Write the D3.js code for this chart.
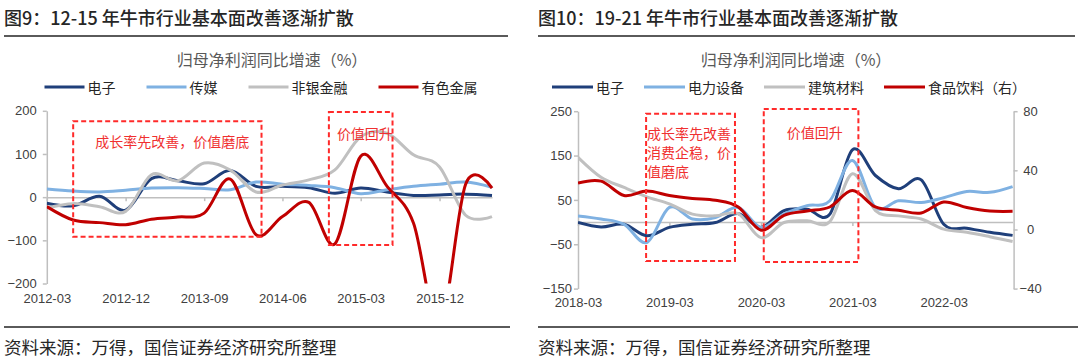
<!DOCTYPE html>
<html>
<head>
<meta charset="utf-8">
<script src="https://cdn.jsdelivr.net/npm/d3@7"></script>
<style>
  body { margin: 0; background: #fff; }
  svg { display: block; }
  .cn { font-family: "Noto Sans CJK SC", "Noto Sans", sans-serif; }
</style>
</head>
<body>
<svg id="chart" width="1080" height="359"></svg>
<script>
// ---- 图9 data (quarterly, %)
const leftDates = ["2012-03","2012-06","2012-09","2012-12","2013-03","2013-06","2013-09","2013-12","2014-03",
                   "2014-06","2014-09","2014-12","2015-03","2015-06","2015-09","2015-12","2016-03","2016-06"];
const leftElec  = [-14, -20, 2, -30, 43, 38, 31, 62, 25, 25, 22, 9, 21, 12, 4, 5, 7, 4];
const leftMedia = [19, 14, 12, 16, 21, 22, 20, 17, 35, 30, 27, 22, 8, 17, 25, 30, 35, 23];
const leftFin   = [-25, -15, -22, -33, 52, 38, 79, 63, 12, 28, 40, 63, 140, 148, 98, 70, -42, -45];
const leftMetal = [-22, -53, -59, -64, -51, -46, -37, 42, -87, -45, -12, -108, 95, 25, -60, -300, 30, 21];
const leftTicksY = [200, 100, 0, -100, -200];
const leftTicksX = ["2012-03","2012-12","2013-09","2014-06","2015-03","2015-12"];

// ---- 图10 data (quarterly, %)
const rightDates = ["2018-03","2018-06","2018-09","2018-12","2019-03","2019-06","2019-09","2019-12","2020-03","2020-06",
                    "2020-09","2020-12","2021-03","2021-06","2021-09","2021-12","2022-03","2022-06","2022-09","2022-12"];
const rightElec  = [-1, -11, -5, -31, -12, -5, -1, 19, -12, 26, 29, 18, 163, 105, 75, 95, -5, -14, -23, -30];
const rightPower = [14, 7, -5, -46, 33, 7, 10, 33, -12, 18, 37, 48, 139, 33, 48, 44, 55, 69, 67, 80];
const rightBuild = [146, 101, 78, 57, 41, 18, 14, 19, -35, -1, 3, 1, 109, 26, 14, 7, -16, -23, -33, -44];
const rightFood  = [31.4, 32.7, 23, 26, 23, 21, 19.7, 15.2, -0.5, 9.6, 12.5, 15.2, 26.4, 15.2, 13, 11.2, 18.6, 14.8, 12.5, 12.3];
const rightTicksY  = [250, 150, 50, -50, -150];
const rightTicksY2 = [80, 40, 0, -40];
const rightTicksX  = ["2018-03","2019-03","2020-03","2021-03","2022-03"];

const NAVY = "#1f3f7a", LBLUE = "#7fb1e2", GRAY = "#c0c0c0", RED = "#c00000";
const parse = d3.timeParse("%Y-%m");
const parseDay = d3.timeParse("%Y-%m-%d");
const fmt = d3.timeFormat("%Y-%m");
const svg = d3.select("#chart");

function drawPanel(p) {
  const g = svg.append("g");

  // header
  g.append("text").attr("class", "cn").attr("x", p.left).attr("y", 25)
    .attr("font-size", 18).attr("font-weight", 500).attr("fill", "#262626").text(p.title);
  g.append("line").attr("x1", p.left).attr("x2", p.ruleTop).attr("y1", 36).attr("y2", 36)
    .attr("stroke", "#5a5a5a").attr("stroke-width", 2);
  g.append("text").attr("class", "cn").attr("x", p.subX).attr("y", 59)
    .attr("text-anchor", "middle").attr("dominant-baseline", "central")
    .attr("font-size", 16).attr("fill", "#595959").text("归母净利润同比增速（%）");

  // footer
  g.append("line").attr("x1", p.left).attr("x2", p.ruleBottom).attr("y1", 327).attr("y2", 327)
    .attr("stroke", "#5a5a5a").attr("stroke-width", 2);
  g.append("text").attr("class", "cn").attr("x", p.left).attr("y", 346)
    .attr("dominant-baseline", "central").attr("font-size", 17.5).attr("fill", "#262626")
    .text("资料来源：万得，国信证券经济研究所整理");

  // legend
  const leg = g.append("g");
  let cx = 0;
  p.series.forEach(s => {
    const it = leg.append("g").attr("transform", `translate(${cx},0)`);
    it.append("line").attr("x1", 0).attr("x2", p.legLine).attr("y1", 0).attr("y2", 0)
      .attr("stroke", s.color).attr("stroke-width", 3);
    const t = it.append("text").attr("class", "cn").attr("x", p.legLine + 3).attr("y", 0)
      .attr("dominant-baseline", "central").attr("font-size", 14).attr("fill", "#262626").text(s.name);
    cx += p.legLine + 3 + t.node().getComputedTextLength() + p.legGap;
  });
  const legW = cx - p.legGap;
  leg.attr("transform", `translate(${p.legCenter - legW / 2},87)`);

  // scales
  const dates = p.dates.map(parse);
  const x = d3.scaleTime().domain(d3.extent(dates)).range(p.xRange);
  const y = d3.scaleLinear().domain(p.yDomain).range(p.yRange);
  const y2 = p.y2Domain ? d3.scaleLinear().domain(p.y2Domain).range(p.yRange) : null;

  const styleAxis = a => {
    a.attr("font-family", "'Liberation Sans', Arial, sans-serif").attr("font-size", 13);
    a.select(".domain").attr("stroke", "#bfbfbf").attr("stroke-width", 1.5);
    a.selectAll(".tick line").attr("stroke", "#bfbfbf").attr("stroke-width", 1.5);
    a.selectAll(".tick text").attr("fill", "#404040");
  };

  // zero line with ticks
  g.append("g").attr("transform", `translate(0,${y(0)})`)
    .call(d3.axisBottom(x).tickValues(p.xTicks.map(parse)).tickSize(4).tickSizeOuter(0).tickFormat(""))
    .call(styleAxis);

  // x labels
  g.append("g").attr("transform", `translate(0,${p.xLabelY})`)
    .call(d3.axisBottom(x).tickValues(p.xTicks.map(parse)).tickSize(0).tickPadding(0).tickFormat(fmt))
    .call(styleAxis)
    .call(a => a.select(".domain").remove());

  // left axis
  g.append("g").attr("transform", `translate(${p.xRange[0]},0)`)
    .call(d3.axisLeft(y).tickValues(p.yTicks).tickSize(4).tickSizeOuter(0).tickPadding(p.padL))
    .call(styleAxis);

  // right axis
  if (y2) {
    g.append("g").attr("transform", `translate(${p.xRange[1] + 1},0)`)
      .call(d3.axisRight(y2).tickValues(p.y2Ticks).tickSize(4).tickSizeOuter(0))
      .call(styleAxis)
      .call(a => a.selectAll(".tick text").attr("x", 17).attr("text-anchor", "middle"));
  }

  // lines
  const clipId = "clip" + p.left;
  g.append("clipPath").attr("id", clipId).append("rect")
    .attr("x", p.xRange[0]).attr("width", p.xRange[1] - p.xRange[0] + 4)
    .attr("y", p.yRange[1] - 10).attr("height", p.yRange[0] - p.yRange[1] + 10);
  const lines = g.append("g").attr("clip-path", `url(#${clipId})`);
  p.series.forEach(s => {
    const sc = s.right ? y2 : y;
    const line = d3.line().x((d, i) => x(dates[i])).y(d => sc(d)).curve(d3.curveCardinal);
    lines.append("path").attr("d", line(s.values)).attr("fill", "none")
      .attr("stroke", s.color).attr("stroke-width", 3).attr("stroke-linejoin", "round");
  });

  // annotation boxes
  p.boxes.forEach(b => {
    const x0 = x(parseDay(b.from)), x1 = x(parseDay(b.to));
    const yt = y(b.top), yb = y(b.bottom);
    g.append("rect").attr("x", x0).attr("y", yt).attr("width", x1 - x0).attr("height", yb - yt)
      .attr("fill", "none").attr("stroke", "#ff2a2a").attr("stroke-width", 2).attr("stroke-dasharray", "5,3");
    b.text.forEach((t, i) => {
      g.append("text").attr("class", "cn").attr("x", x0 + b.dx).attr("y", yt + b.dy + i * 19)
        .attr("dominant-baseline", "central").attr("font-size", 14).attr("fill", "#f03030").text(t);
    });
  });
}

drawPanel({
  left: 4, ruleTop: 508, ruleBottom: 510,
  title: "图9：12-15 年牛市行业基本面改善逐渐扩散",
  subX: 272, legCenter: 261, legLine: 40, legGap: 31,
  dates: leftDates, xTicks: leftTicksX, xRange: [46.8, 492], xLabelY: 294,
  yDomain: [-200, 200], yRange: [283.5, 110.8], yTicks: leftTicksY, padL: 6,
  series: [
    { name: "电子", values: leftElec, color: NAVY },
    { name: "传媒", values: leftMedia, color: LBLUE },
    { name: "非银金融", values: leftFin, color: GRAY },
    { name: "有色金属", values: leftMetal, color: RED }
  ],
  boxes: [
    { from: "2012-06-01", to: "2014-03-20", top: 176, bottom: -92, dx: 22, dy: 20, text: ["成长率先改善，价值磨底"] },
    { from: "2014-11-10", to: "2015-06-20", top: 197, bottom: -111, dx: 8, dy: 21, text: ["价值回升"] }
  ]
});

drawPanel({
  left: 538, ruleTop: 1075, ruleBottom: 1078,
  title: "图10：19-21 年牛市行业基本面改善逐渐扩散",
  subX: 796, legCenter: 789, legLine: 41, legGap: 20,
  dates: rightDates, xTicks: rightTicksX, xRange: [578, 1012.6], xLabelY: 298,
  yDomain: [-150, 250], yRange: [288.6, 111.2], yTicks: rightTicksY, padL: 2,
  y2Domain: [-40, 80], y2Ticks: rightTicksY2,
  series: [
    { name: "电子", values: rightElec, color: NAVY },
    { name: "电力设备", values: rightPower, color: LBLUE },
    { name: "建筑材料", values: rightBuild, color: GRAY },
    { name: "食品饮料（右）", values: rightFood, color: RED, right: true }
  ],
  boxes: [
    { from: "2018-11-28", to: "2019-11-18", top: 244, bottom: -88, dx: 1, dy: 19, text: ["成长率先改善", "消费企稳，价", "值磨底"] },
    { from: "2020-03-12", to: "2021-03-25", top: 255, bottom: -90, dx: 23, dy: 23, text: ["价值回升"] }
  ]
});
</script>
</body>
</html>
